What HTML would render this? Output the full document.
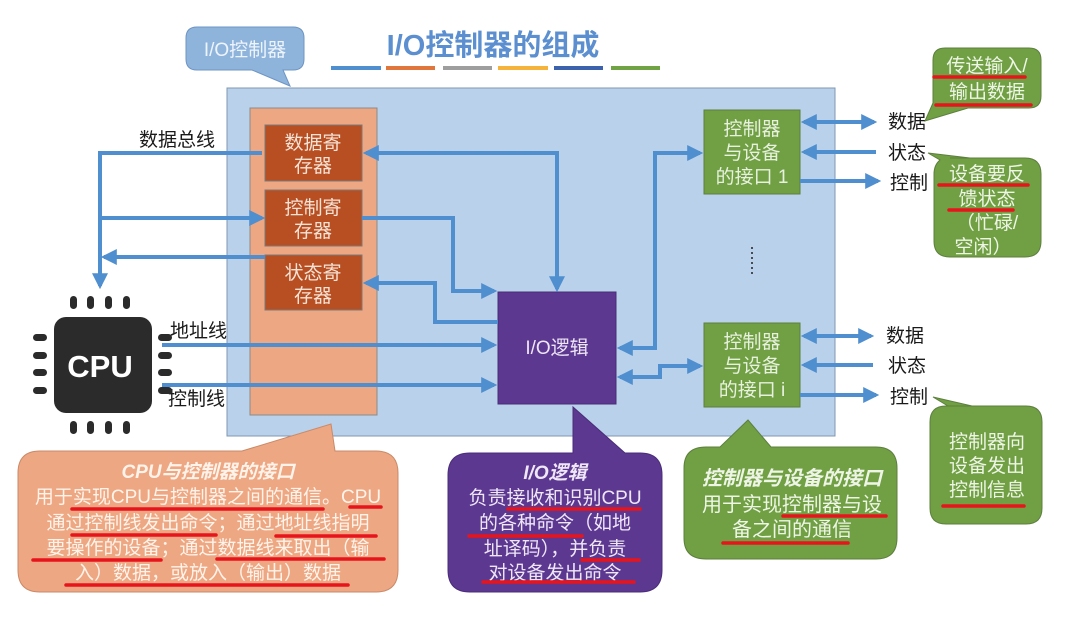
<!DOCTYPE html>
<html><head><meta charset="utf-8"><style>
html,body{margin:0;padding:0;background:#fff;}
svg{display:block;}
text{font-family:"Liberation Sans","Noto Sans CJK SC",sans-serif;}
</style></head><body>
<svg width="1074" height="617" viewBox="0 0 1074 617" xmlns="http://www.w3.org/2000/svg">
<defs>
<marker id="a" markerWidth="4" markerHeight="4" refX="3.2" refY="2" orient="auto-start-reverse" markerUnits="strokeWidth"><path d="M0,0 L4,2 L0,4 z" fill="#4f8fcf"/></marker>
</defs>
<rect width="1074" height="617" fill="#fff"/>

<!-- title callout -->
<path d="M197,27 H293 Q304,27 304,38 V59 Q304,70 293,70 H283 L290,86 L252,70 H197 Q186,70 186,59 V38 Q186,27 197,27 Z" fill="#8fb4dc" stroke="#6d95c4" stroke-width="1"/>
<text x="245" y="56" font-size="19" fill="#eef4fb" text-anchor="middle">I/O控制器</text>
<text x="493" y="55" font-size="29" font-weight="bold" fill="#5b8fcf" text-anchor="middle">I/O控制器的组成</text>
<rect x="331" y="66" width="50" height="4" fill="#4f8fcf"/>
<rect x="386" y="66" width="49" height="4" fill="#e0763c"/>
<rect x="443" y="66" width="49" height="4" fill="#9e9e9e"/>
<rect x="498" y="66" width="50" height="4" fill="#f5b33b"/>
<rect x="554" y="66" width="49" height="4" fill="#3d62ad"/>
<rect x="611" y="66" width="49" height="4" fill="#6fa344"/>

<!-- main box -->
<rect x="227" y="88" width="608" height="348" fill="#b9d1ea" stroke="#7f97b2" stroke-width="1"/>
<rect x="250" y="108" width="127" height="307" fill="#eda783" stroke="#8a8a8a" stroke-width="1"/>
<g fill="#b74f23" stroke="#7a7a7a" stroke-width="1">
<rect x="265" y="125" width="97" height="56"/>
<rect x="265" y="190" width="97" height="56"/>
<rect x="265" y="255" width="97" height="55"/>
</g>
<g font-size="19" fill="#f6e3d6" text-anchor="middle">
<text x="313" y="149">数据寄</text><text x="313" y="172">存器</text>
<text x="313" y="214">控制寄</text><text x="313" y="237">存器</text>
<text x="313" y="279">状态寄</text><text x="313" y="302">存器</text>
</g>

<!-- IO logic -->
<rect x="498" y="292" width="118" height="112" fill="#5c3891" stroke="#4a2d78"/>
<text x="557" y="354" font-size="19" fill="#eee6f6" text-anchor="middle">I/O逻辑</text>

<!-- interfaces -->
<rect x="704" y="110" width="96" height="84" fill="#70a043" stroke="#5d7f3e"/>
<rect x="704" y="323" width="96" height="84" fill="#70a043" stroke="#5d7f3e"/>
<g font-size="19" fill="#e8f1df" text-anchor="middle">
<text x="752" y="135">控制器</text><text x="752" y="159">与设备</text><text x="752" y="183">的接口 1</text>
<text x="752" y="348">控制器</text><text x="752" y="372">与设备</text><text x="752" y="396">的接口 i</text>
</g>
<g fill="#222"><circle cx="752" cy="248" r="1"/><circle cx="752" cy="253" r="1"/><circle cx="752" cy="258" r="1"/><circle cx="752" cy="263" r="1"/><circle cx="752" cy="268" r="1"/><circle cx="752" cy="273" r="1"/></g>

<!-- connectors -->
<g fill="none" stroke="#4f8fcf" stroke-width="4">
<path d="M262,153 H100 V286" marker-end="url(#a)"/>
<path d="M100,218 H262" marker-end="url(#a)"/>
<path d="M265,257 H104" marker-end="url(#a)"/>
<path d="M366,153 H557 V289" marker-start="url(#a)" marker-end="url(#a)"/>
<path d="M362,218 H453 V291 H494" marker-end="url(#a)"/>
<path d="M498,322 H435 V283 H366" marker-end="url(#a)"/>
<path d="M162,345 H494" marker-end="url(#a)"/>
<path d="M162,385 H494" marker-end="url(#a)"/>
<path d="M620,348 H655 V153 H700" marker-start="url(#a)" marker-end="url(#a)"/>
<path d="M620,377 H660 V366 H700" marker-start="url(#a)" marker-end="url(#a)"/>
<path d="M804,122 H874" marker-start="url(#a)" marker-end="url(#a)"/>
<path d="M876,152 H804" marker-end="url(#a)"/>
<path d="M800,181 H878" marker-end="url(#a)"/>
<path d="M804,336 H871" marker-start="url(#a)" marker-end="url(#a)"/>
<path d="M873,365 H804" marker-end="url(#a)"/>
<path d="M800,395 H876" marker-end="url(#a)"/>
</g>
<g font-size="19" fill="#1a1a1a">
<text x="139" y="146">数据总线</text>
<text x="170" y="337">地址线</text>
<text x="168" y="405">控制线</text>
<text x="888" y="128">数据</text><text x="888" y="159">状态</text><text x="890" y="189">控制</text>
<text x="886" y="342">数据</text><text x="888" y="372">状态</text><text x="890" y="403">控制</text>
</g>

<!-- CPU -->
<g fill="#2b2b2b">
<rect x="54" y="317" width="98" height="96" rx="12"/>
<rect x="70" y="296" width="7" height="13" rx="3.5"/><rect x="87" y="296" width="7" height="13" rx="3.5"/><rect x="105" y="296" width="7" height="13" rx="3.5"/><rect x="123" y="296" width="7" height="13" rx="3.5"/>
<rect x="70" y="421" width="7" height="13" rx="3.5"/><rect x="87" y="421" width="7" height="13" rx="3.5"/><rect x="105" y="421" width="7" height="13" rx="3.5"/><rect x="123" y="421" width="7" height="13" rx="3.5"/>
<rect x="33" y="334" width="14" height="7" rx="3.5"/><rect x="33" y="352" width="14" height="7" rx="3.5"/><rect x="33" y="369" width="14" height="7" rx="3.5"/><rect x="33" y="387" width="14" height="7" rx="3.5"/>
<rect x="158" y="334" width="14" height="7" rx="3.5"/><rect x="158" y="352" width="14" height="7" rx="3.5"/><rect x="158" y="369" width="14" height="7" rx="3.5"/><rect x="158" y="387" width="14" height="7" rx="3.5"/>
</g>
<text x="100" y="377" font-size="31" font-weight="bold" fill="#fff" text-anchor="middle">CPU</text>

<!-- orange callout -->
<path d="M40,451 H242 L331,424 L335,451 H376 Q398,451 398,473 V570 Q398,592 376,592 H40 Q18,592 18,570 V473 Q18,451 40,451 Z" fill="#eda783" stroke="#c98a68"/>
<g font-size="19" fill="#fff3ea" text-anchor="middle">
<text x="208" y="478" font-weight="bold" font-style="italic">CPU与控制器的接口</text>
<text x="208" y="503">用于实现CPU与控制器之间的通信。CPU</text>
<text x="208" y="529">通过控制线发出命令；通过地址线指明</text>
<text x="208" y="554">要操作的设备；通过数据线来取出（输</text>
<text x="208" y="579">入）数据，或放入（输出）数据</text>
</g>
<!-- purple callout -->
<path d="M470,453 H573 L573,407 L625,453 H640 Q662,453 662,475 V570 Q662,592 640,592 H470 Q448,592 448,570 V475 Q448,453 470,453 Z" fill="#5c3891" stroke="#4a2d78"/>
<g font-size="19" fill="#efe7f7" text-anchor="middle">
<text x="555" y="479" font-weight="bold" font-style="italic">I/O逻辑</text>
<text x="555" y="504">负责接收和识别CPU</text>
<text x="555" y="529">的各种命令（如地</text>
<text x="555" y="555">址译码），并负责</text>
<text x="555" y="579">对设备发出命令</text>
</g>
<!-- green callout middle -->
<path d="M706,447 H720 L748,420 L771,447 H876 Q897,447 897,468 V538 Q897,559 876,559 H706 Q684,559 684,538 V468 Q684,447 706,447 Z" fill="#70a043" stroke="#5d7f3e"/>
<g font-size="20" fill="#eef5e6" text-anchor="middle">
<text x="792" y="485" font-weight="bold" font-style="italic">控制器与设备的接口</text>
<text x="792" y="511">用于实现控制器与设</text>
<text x="792" y="536">备之间的通信</text>
</g>
<!-- right callouts -->
<path d="M948,406 H1026 Q1042,406 1042,422 V508 Q1042,524 1026,524 H946 Q930,524 930,508 V422 Q930,406 946,406 H972 L933,397 Z" fill="#70a043" stroke="#5d7f3e"/>
<g font-size="19" fill="#eef5e6" text-anchor="middle">
<text x="987" y="448">控制器向</text><text x="987" y="472">设备发出</text><text x="987" y="496">控制信息</text>
</g>
<path d="M945,48 H1029 Q1041,48 1041,60 V96 Q1041,108 1029,108 H968 L925,121 L933,103 V60 Q933,48 945,48 Z" fill="#70a043" stroke="#5d7f3e"/>
<g font-size="19" fill="#eef5e6" text-anchor="middle">
<text x="987" y="72">传送输入/</text><text x="987" y="98">输出数据</text>
</g>
<path d="M950,158 H1025 Q1041,158 1041,174 V241 Q1041,257 1025,257 H950 Q934,257 934,241 V174 Q934,165 940,160 L928,153 L970,158 Z" fill="#70a043" stroke="#5d7f3e"/>
<g font-size="19" fill="#eef5e6" text-anchor="middle">
<text x="987" y="180">设备要反</text><text x="987" y="205">馈状态</text><text x="987" y="229">（忙碌/</text><text x="983" y="253">空闲）</text>
</g>

<!-- red underlines -->
<g stroke="#e8141c" stroke-width="3.5" stroke-linecap="round">
<line x1="72" y1="509" x2="323" y2="509"/><line x1="350" y1="507" x2="381" y2="507"/>
<line x1="72" y1="535" x2="216" y2="535"/><line x1="276" y1="536" x2="376" y2="536"/>
<line x1="33" y1="560" x2="161" y2="560"/><line x1="217" y1="559" x2="384" y2="559"/>
<line x1="66" y1="585" x2="348" y2="585"/>
<line x1="508" y1="509" x2="640" y2="509"/><line x1="469" y1="536" x2="582" y2="536"/>
<line x1="582" y1="560" x2="639" y2="560"/><line x1="483" y1="582" x2="634" y2="582"/>
<line x1="783" y1="516" x2="886" y2="516"/><line x1="723" y1="543" x2="848" y2="543"/>
<line x1="943" y1="506" x2="1024" y2="506"/>
<line x1="934" y1="77" x2="1025" y2="77"/><line x1="936" y1="105" x2="1031" y2="105"/>
<line x1="939" y1="185" x2="1028" y2="185"/><line x1="949" y1="210" x2="1013" y2="210"/>
</g>
</svg>
</body></html>
